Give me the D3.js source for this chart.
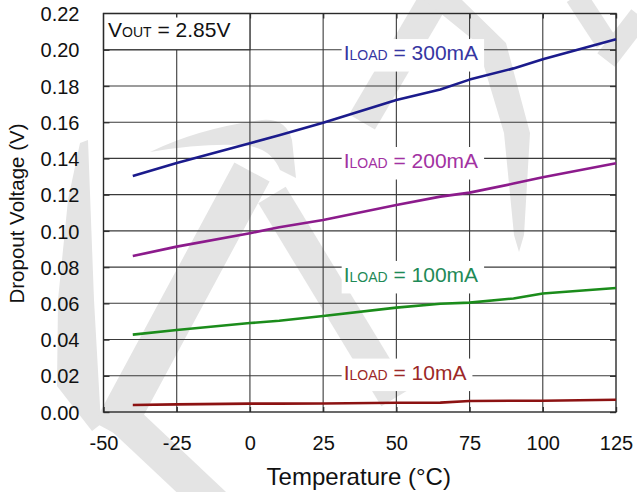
<!DOCTYPE html>
<html>
<head>
<meta charset="utf-8">
<script src="https://cdn.jsdelivr.net/npm/d3@7"></script>
<style>
  html, body { margin: 0; padding: 0; background: #fff; }
  svg { display: block; }
  text { font-family: "Liberation Sans", Arial, sans-serif; }
</style>
</head>
<body>
<svg id="chart" width="637" height="492"></svg>
<script>
// ---- data ----
const temps   = [-40, -25, 0, 10, 25, 50, 65, 75, 90, 100, 125];
const load300 = [0.1303, 0.1375, 0.1484, 0.1528, 0.1597, 0.1723, 0.1780, 0.1835, 0.1897, 0.1947, 0.2058];
const load200 = [0.0861, 0.0913, 0.0987, 0.1020, 0.1060, 0.1143, 0.1189, 0.1211, 0.1261, 0.1296, 0.1373];
const load100 = [0.0427, 0.0453, 0.0491, 0.0504, 0.0530, 0.0576, 0.0598, 0.0604, 0.0627, 0.0654, 0.0685];
const load10  = [0.0039, 0.0042, 0.0046, 0.0046, 0.0047, 0.0051, 0.0052, 0.0061, 0.0062, 0.0062, 0.0068];
const seriesNames = ["300mA", "200mA", "100mA", "10mA"];
const xTicks = [-50, -25, 0, 25, 50, 75, 100, 125];
const yTicks = [0, 0.02, 0.04, 0.06, 0.08, 0.10, 0.12, 0.14, 0.16, 0.18, 0.20, 0.22];
const xTitle = "Temperature (°C)";
const yTitle = "Dropout Voltage (V)";
const vout = "2.85V";

// ---- style / layout ----
const lineColors  = ["#1b1b8c", "#8c1b8c", "#1b8c1b", "#8c1212"];
const labelColors = ["#3636a2", "#a232a2", "#1f8a57", "#9c2828"];
const labelAnchorX = 32;                          // in °C
const labelAnchorY = [0.1943, 0.1347, 0.0718, 0.0179]; // baselines in V

const svg = d3.select("#chart");
const x = d3.scaleLinear().domain([-50, 125]).range([103.5, 616]);
const y = d3.scaleLinear().domain([0, 0.22]).range([412, 13.5]);

// ---- watermark (decoration) ----
const wm = svg.append("g").attr("fill", "#e4e4e4").attr("stroke", "none");
const band = (x1, y1, x2, y2, w) => {
  const dx = x2 - x1, dy = y2 - y1, L = Math.hypot(dx, dy);
  const nx = -dy / L * w / 2, ny = dx / L * w / 2;
  return `M${x1+nx},${y1+ny}L${x2+nx},${y2+ny}L${x2-nx},${y2-ny}L${x1-nx},${y1-ny}Z`;
};
wm.append("path").attr("d", "M80,143L88,140L94,300L101,424L92,431L57,386L58,300L68,200Z");
wm.append("path").attr("d", band(112, 432, 252, 172, 40));
wm.append("path").attr("d", band(112, 408, 215, 505, 34));
wm.append("path").attr("d", "M150,152Q200,128 262,120Q286,118 292,140L296,178L280,170Q272,150 250,146Q210,142 150,152Z");
wm.append("path").attr("d", band(272, 195, 395, 398, 32));
wm.append("path").attr("d", band(362, 122, 436, -4, 30));
wm.append("path").attr("d", "M424,0L477,43L504,133L514,235L519,252L524,235L530,133L506,43L462,0Z");
wm.append("path").attr("d", band(576, -4, 606, 42, 22));
wm.append("path").attr("d", band(640, 16, 606, 60, 22));

// ---- grid ----
const grid = svg.append("g").attr("stroke", "#3a3a3a").attr("stroke-width", 1.1);
grid.selectAll("line.v").data(xTicks.slice(1, -1)).join("line")
  .attr("x1", d => x(d)).attr("x2", d => x(d)).attr("y1", y(0.22)).attr("y2", y(0));
grid.selectAll("line.h").data(yTicks.slice(1, -1)).join("line")
  .attr("y1", d => y(d)).attr("y2", d => y(d)).attr("x1", x(-50)).attr("x2", x(125));

// ---- axes (inner ticks, labels) ----
const axB = svg.append("g").attr("transform", `translate(0,${y(0)})`)
  .call(d3.axisBottom(x).tickValues(xTicks).tickSize(-5).tickPadding(0).tickFormat(d => String(d)));
const axL = svg.append("g").attr("transform", `translate(${x(-50)},0)`)
  .call(d3.axisLeft(y).tickValues(yTicks).tickSize(-6).tickPadding(0).tickFormat(d => d.toFixed(2)));
[axB, axL].forEach(a => {
  a.select(".domain").remove();
  a.selectAll(".tick line").attr("stroke", "#333").attr("stroke-width", 1.4);
  a.selectAll(".tick text").attr("fill", "#111").style("font-size", "20px")
    .style("font-family", '"Liberation Sans", Arial, sans-serif');
});
axB.selectAll(".tick text").attr("y", 38).attr("dy", 0);
axL.selectAll(".tick text").attr("x", -24).attr("dy", "0.36em");
// top/right inner ticks
svg.append("g").attr("transform", `translate(0,${y(0.22)})`)
  .call(d3.axisTop(x).tickValues(xTicks).tickSize(-5).tickFormat(""))
  .call(g => { g.select(".domain").remove(); g.selectAll(".tick line").attr("stroke", "#333").attr("stroke-width", 1.4); });
svg.append("g").attr("transform", `translate(${x(125)},0)`)
  .call(d3.axisRight(y).tickValues(yTicks).tickSize(-6).tickFormat(""))
  .call(g => { g.select(".domain").remove(); g.selectAll(".tick line").attr("stroke", "#333").attr("stroke-width", 1.4); });

// ---- VOUT box ----
svg.append("rect").attr("x", x(-50)).attr("y", y(0.22))
  .attr("width", x(0) - x(-50)).attr("height", y(0.20) - y(0.22))
  .attr("fill", "#fff").attr("stroke", "#333").attr("stroke-width", 1.2);
svg.append("line").attr("x1", x(-25)).attr("x2", x(-25)).attr("y1", y(0.22)).attr("y2", y(0.22) + 4)
  .attr("stroke", "#333").attr("stroke-width", 1.4);
const vt = svg.append("text").attr("x", x(-50) + 4.5).attr("y", 36.7).attr("fill", "#111").style("font-size", "21px");
vt.append("tspan").text("V");
vt.append("tspan").style("font-size", "14px").text("OUT");
vt.append("tspan").text("\u00A0= " + vout);

// ---- plot frame ----
svg.append("rect").attr("x", x(-50)).attr("y", y(0.22))
  .attr("width", x(125) - x(-50)).attr("height", y(0) - y(0.22))
  .attr("fill", "none").attr("stroke", "#2a2a2a").attr("stroke-width", 1.4);

// ---- series lines ----
const allSeries = [load300, load200, load100, load10];
const lineGen = d3.line().x(d => x(d[0])).y(d => y(d[1]));
allSeries.forEach((vals, i) => {
  svg.append("path").datum(temps.map((t, k) => [t, vals[k]]))
    .attr("d", lineGen).attr("fill", "none")
    .attr("stroke", lineColors[i]).attr("stroke-width", 2.6)
    .attr("stroke-linejoin", "round");
});

// ---- series labels ----
seriesNames.forEach((name, i) => {
  const g = svg.append("g");
  const bx = x(labelAnchorX), by = y(labelAnchorY[i]);
  const t = g.append("text").attr("x", bx).attr("y", by).attr("fill", labelColors[i]).style("font-size", "21px");
  t.append("tspan").text("I");
  t.append("tspan").style("font-size", "14px").text("LOAD");
  t.append("tspan").text("\u00A0= " + name);
  const len = t.node().getComputedTextLength();
  g.insert("rect", "text").attr("x", bx - 2).attr("y", by - 21)
    .attr("width", len + 8).attr("height", 32.5).attr("fill", "#fff");
});

// ---- axis titles ----
svg.append("text").attr("x", (x(-50) + x(125)) / 2 - 1).attr("y", 485)
  .attr("text-anchor", "middle").attr("fill", "#111").style("font-size", "24px").text(xTitle);
svg.append("text").attr("transform", `translate(23.5,${213.5}) rotate(-90)`)
  .attr("text-anchor", "middle").attr("fill", "#111").style("font-size", "20.5px").text(yTitle);
</script>
</body>
</html>
